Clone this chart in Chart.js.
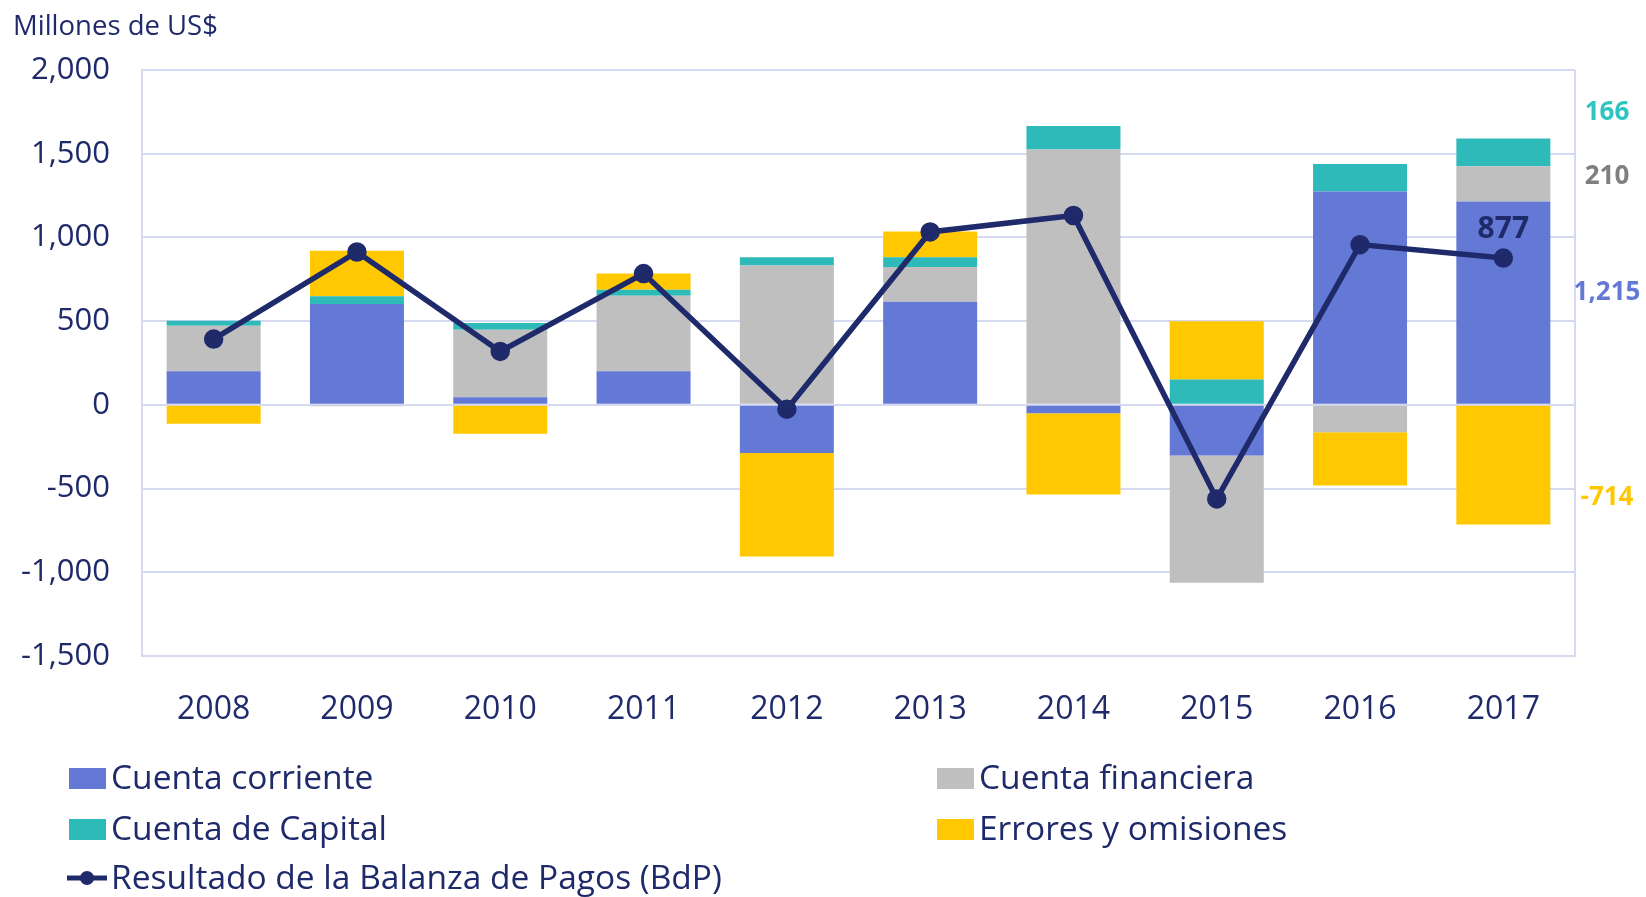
<!DOCTYPE html>
<html>
<head>
<meta charset="utf-8">
<script src="https://cdn.jsdelivr.net/npm/chart.js@4.4.1/dist/chart.umd.min.js"></script>
<style>
  html, body { margin: 0; padding: 0; background: #ffffff; }
  #wrap { position: relative; width: 1646px; height: 897px; }
</style>
</head>
<body>
<div id="wrap">
  <canvas id="bdpChart" width="1646" height="897"></canvas>
</div>
<script>
const years = ['2008', '2009', '2010', '2011', '2012', '2013', '2014', '2015', '2016', '2017'];
const cuentaCorriente = [200, 602, 46, 200, -287, 616, -50, -303, 1274, 1215];
const cuentaFinanciera = [273, -8, 403, 452, 832, 208, 1525, -759, -163, 210];
const cuentaCapital = [30, 46, 40, 36, 49, 57, 140, 152, 164, 166];
const errores = [-113, 273, -173, 96, -619, 154, -486, 348, -319, -714];
const resultadoBdP = [393, 913, 319, 784, -26, 1033, 1131, -562, 957, 877];
const yTicks = [-1500, -1000, -500, 0, 500, 1000, 1500, 2000];

const navy = '#1F2A6B';
const gridColor = '#D6DAF1';
const font = '"Open Sans", sans-serif';

// last-year labels shown at the right of the plot
const sideLabels = [
    { text: '166', color: '#2EC4C0', at: 1746 },
    { text: '210', color: '#7F7F7F', at: 1365 },
    { text: '1,215', color: '#6479D6', at: 670 },
    { text: '-714', color: '#FFC800', at: -556 },
];

const legendItems = [
    { label: 'Cuenta corriente', color: '#6479D6', col: 0, row: 0 },
    { label: 'Cuenta financiera', color: '#BFBFBF', col: 1, row: 0 },
    { label: 'Cuenta de Capital', color: '#2EBAB8', col: 0, row: 1 },
    { label: 'Errores y omisiones', color: '#FFC800', col: 1, row: 1 },
    { label: 'Resultado de la Balanza de Pagos (BdP)', color: navy, col: 0, row: 2, line: true },
];

const extras = {
    id: 'extras',
    beforeDatasetsDraw(chart) {
        const { ctx, chartArea } = chart;
        ctx.save();
        ctx.strokeStyle = gridColor;
        ctx.lineWidth = 2;
        ctx.beginPath();
        ctx.moveTo(chartArea.right, chartArea.top);
        ctx.lineTo(chartArea.right, chartArea.bottom);
        ctx.stroke();
        ctx.restore();
    },
    afterDraw(chart) {
        const { ctx, chartArea, scales } = chart;
        ctx.save();

        // axis title
        ctx.fillStyle = navy;
        ctx.font = '27.5px ' + font;
        ctx.textAlign = 'left';
        ctx.textBaseline = 'middle';
        ctx.fillText('Millones de US$', 13, 27);

        // label above the last point
        const pt = chart.getDatasetMeta(4).data[9];
        ctx.font = 'bold 30px ' + font;
        ctx.textAlign = 'center';
        ctx.fillText('877', pt.x, pt.y - 29);

        // right-side labels
        ctx.font = 'bold 26px ' + font;
        sideLabels.forEach((s) => {
            ctx.fillStyle = s.color;
            ctx.fillText(s.text, chartArea.right + 32, scales.y.getPixelForValue(s.at));
        });

        // legend
        const colX = [69, 937];
        const rowY = [778, 829, 878];
        ctx.font = '33.5px ' + font;
        ctx.textAlign = 'left';
        legendItems.forEach((item) => {
            const x = colX[item.col];
            const y = rowY[item.row];
            if (item.line) {
                ctx.strokeStyle = item.color;
                ctx.lineWidth = 5;
                ctx.beginPath();
                ctx.moveTo(x - 2, y);
                ctx.lineTo(x + 38, y);
                ctx.stroke();
                ctx.fillStyle = item.color;
                ctx.beginPath();
                ctx.arc(x + 18, y, 7, 0, Math.PI * 2);
                ctx.fill();
            } else {
                ctx.fillStyle = item.color;
                ctx.fillRect(x, y - 10, 37, 21);
            }
            ctx.fillStyle = navy;
            ctx.fillText(item.label, x + 42, y + 1);
        });
        ctx.restore();
    },
};

const barSet = (label, data, color) => ({
    type: 'bar',
    label,
    data,
    backgroundColor: color,
    stack: 'cuentas',
    order: 1,
    barPercentage: 0.656,
    categoryPercentage: 1,
});

new Chart(document.getElementById('bdpChart'), {
    data: {
        labels: years,
        datasets: [
            barSet('Cuenta corriente', cuentaCorriente, '#6479D6'),
            barSet('Cuenta financiera', cuentaFinanciera, '#BFBFBF'),
            barSet('Cuenta de Capital', cuentaCapital, '#2EBAB8'),
            barSet('Errores y omisiones', errores, '#FFC800'),
            {
                type: 'line',
                label: 'Resultado de la Balanza de Pagos (BdP)',
                data: resultadoBdP,
                borderColor: navy,
                backgroundColor: navy,
                borderWidth: 5.5,
                pointRadius: 7,
                pointHoverRadius: 7,
                stack: 'bdp',
                order: 0,
                tension: 0,
            },
        ],
    },
    options: {
        responsive: false,
        animation: false,
        layout: {
            padding: { left: 0, right: 71, top: 70, bottom: 161 },
        },
        plugins: {
            legend: { display: false },
            tooltip: { enabled: false },
        },
        scales: {
            x: {
                stacked: true,
                grid: { display: false },
                border: { color: gridColor, width: 2 },
                ticks: {
                    color: navy,
                    font: { family: font, size: 32 },
                    padding: 27,
                },
                afterFit: (scale) => { scale.height = 80; },
            },
            y: {
                stacked: true,
                min: -1500,
                max: 2000,
                afterBuildTicks: (scale) => { scale.ticks = yTicks.map((v) => ({ value: v })); },
                grid: { color: gridColor, lineWidth: 2, drawTicks: false },
                border: { color: gridColor, width: 2 },
                ticks: {
                    color: navy,
                    font: { family: font, size: 31 },
                    padding: 32,
                    callback: (v) => v.toLocaleString('en-US'),
                },
                afterFit: (scale) => { scale.width = 142; },
            },
        },
    },
    plugins: [extras],
});
</script>
</body>
</html>
